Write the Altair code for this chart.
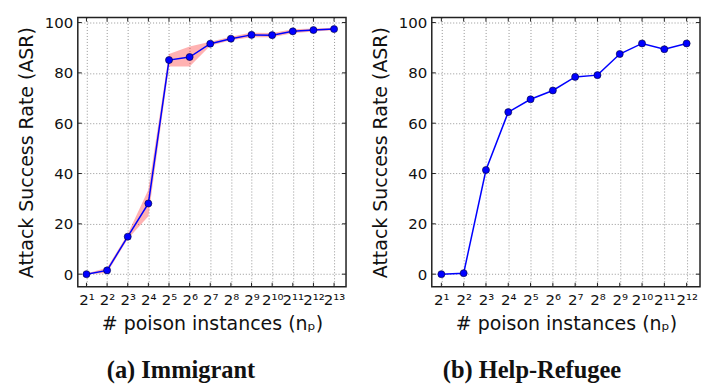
import json
import altair as alt
import pandas as pd

# ---- data ----
imm_exp = [1, 2, 3, 4, 5, 6, 7, 8, 9, 10, 11, 12, 13]
imm_asr = [0.0, 1.5, 14.9, 28.1, 85.1, 86.3, 91.6, 93.6, 95.1, 95.0, 96.5, 97.0, 97.4]
imm_lo = [0.0, 0.5, 14.0, 23.0, 82.5, 82.5, 90.8, 93.0, 94.2, 94.2, 95.7, 96.4, 96.9]
imm_hi = [0.3, 2.5, 16.0, 33.5, 87.5, 90.5, 92.4, 94.4, 96.0, 95.8, 97.3, 97.6, 97.9]

ref_exp = [1, 2, 3, 4, 5, 6, 7, 8, 9, 10, 11, 12]
ref_asr = [0.0, 0.4, 41.4, 64.4, 69.5, 73.0, 78.4, 79.1, 87.5, 91.7, 89.4, 91.7]

x_labels = ["2¹", "2²", "2³", "2⁴", "2⁵", "2⁶", "2⁷", "2⁸", "2⁹", "2¹⁰", "2¹¹", "2¹²", "2¹³"]
y_ticks = [0, 20, 40, 60, 80, 100]

captions = ["(a) Immigrant", "(b) Help-Refugee"]
y_title = "Attack Success Rate (ASR)"
x_title = "# poison instances (nₚ)"

label_expr = json.dumps(x_labels, ensure_ascii=False) + "[datum.value - 1]"

W, H = 269, 270
TL = 4  # inward tick length
FRAME = "#222222"


def panel(df, exps, domain_x, caption, band, cap_dx):
    x_axis = alt.Axis(
        values=exps, labelExpr=label_expr, title=x_title, ticks=False,
        labelPadding=6, titlePadding=7, labelFlush=False, labelOverlap=False,
    )
    y_axis = alt.Axis(values=y_ticks, title=y_title, ticks=False,
                      labelPadding=5, titlePadding=8)
    xs = alt.Scale(domain=domain_x, nice=False, zero=False)
    ys = alt.Scale(domain=[-5, 102], nice=False)
    xenc = alt.X("exp:Q", scale=xs, axis=x_axis)
    yenc = alt.Y("asr:Q", scale=ys, axis=y_axis)

    base = alt.Chart(df).encode(x=xenc)
    layers = []
    if band:
        layers.append(
            base.mark_area(color="#ff0000", opacity=0.3).encode(
                y=alt.Y("lo:Q", scale=ys, axis=y_axis), y2="hi:Q",
            )
        )
    layers.append(base.mark_line(color="#0000ff", strokeWidth=1.5).encode(y=yenc))
    layers.append(
        base.mark_point(filled=True, color="#0000ff", size=50, opacity=1,
                        stroke="#000033", strokeWidth=0.6).encode(y=yenc)
    )

    # inward ticks on all four sides
    xt = alt.Chart(pd.DataFrame({"exp": exps}))
    yt = alt.Chart(pd.DataFrame({"asr": y_ticks}))
    layers.append(xt.mark_rule(color=FRAME, strokeWidth=1).encode(
        x=xenc, y=alt.value(H), y2=alt.value(H - TL)))
    layers.append(xt.mark_rule(color=FRAME, strokeWidth=1).encode(
        x=xenc, y=alt.value(0), y2=alt.value(TL)))
    layers.append(yt.mark_rule(color=FRAME, strokeWidth=1).encode(
        y=yenc, x=alt.value(0), x2=alt.value(TL)))
    layers.append(yt.mark_rule(color=FRAME, strokeWidth=1).encode(
        y=yenc, x=alt.value(W), x2=alt.value(W - TL)))

    return alt.layer(*layers).properties(
        width=W, height=H,
        title=alt.TitleParams(
            caption, orient="bottom", anchor="middle", font="Liberation Serif",
            fontWeight="bold", fontSize=24.5, color="#111111", offset=26, dx=cap_dx,
        ),
    )


df1 = pd.DataFrame({"exp": imm_exp, "asr": imm_asr, "lo": imm_lo, "hi": imm_hi})
df2 = pd.DataFrame({"exp": ref_exp, "asr": ref_asr})

left = panel(df1, imm_exp, [0.58, 13.58], captions[0], True, -31)
right = panel(df2, ref_exp, [0.57, 12.6], captions[1], False, -34)

chart = alt.hconcat(left, right, spacing=22).properties(
    padding={"left": 8, "top": 6, "right": 2, "bottom": 2},
    background="white",
).configure_view(
    stroke=FRAME, strokeWidth=1.5,
).configure_axis(
    labelFont="DejaVu Sans", labelFontSize=15, labelColor="#111111",
    titleFont="DejaVu Sans", titleFontSize=19, titleFontWeight="normal", titleColor="#111111",
    grid=True, gridColor="#8a8a8a", gridDash=[1, 2], gridWidth=0.9,
    domain=False,
)

chart.save("out.html", embed_options={"renderer": "svg", "actions": False})
